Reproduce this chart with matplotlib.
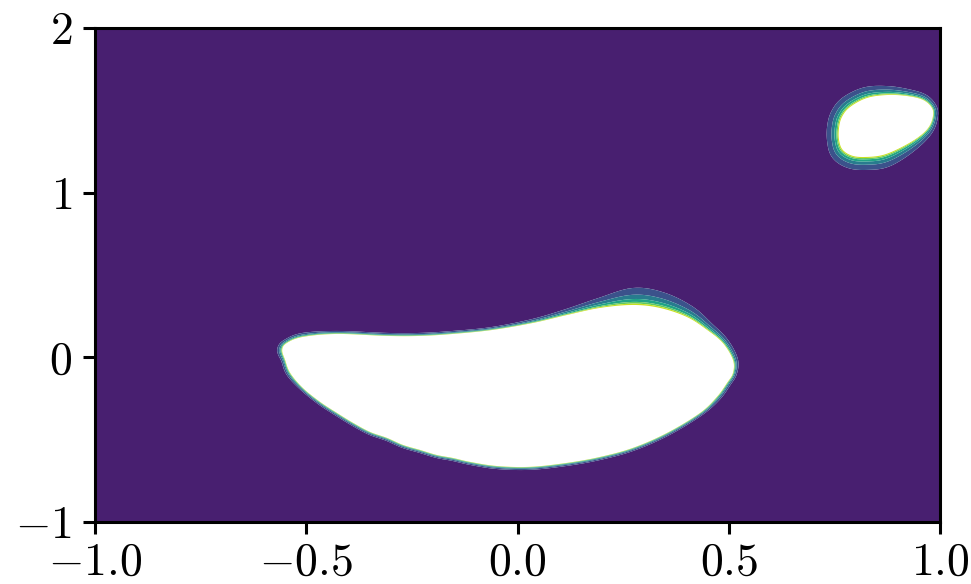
import numpy as np
import matplotlib
matplotlib.use("Agg")
import matplotlib.pyplot as plt
from matplotlib.path import Path

# ---- data: outlines of the saturated (white) regions ----
big_x = [-0.557, -0.546, -0.508, -0.427, -0.309, -0.231, -0.153, -0.060, 0.037, 0.117,
         0.195, 0.273, 0.337, 0.401, 0.449, 0.486, 0.510, 0.510, 0.496, 0.472,
         0.432, 0.354, 0.273, 0.195, 0.117, 0.030, -0.049, -0.112, -0.153, -0.191,
         -0.231, -0.271, -0.309, -0.349, -0.389, -0.427, -0.467, -0.508, -0.538, -0.550]
big_y = [0.045, 0.087, 0.124, 0.142, 0.130, 0.130, 0.142, 0.166, 0.209, 0.257,
         0.300, 0.318, 0.300, 0.245, 0.166, 0.087, -0.016, -0.095, -0.155, -0.240,
         -0.338, -0.459, -0.550, -0.605, -0.641, -0.665, -0.660, -0.635, -0.611, -0.593,
         -0.562, -0.532, -0.489, -0.453, -0.398, -0.338, -0.271, -0.186, -0.095, -0.016]
# width of the coloured fringe around each outline point (pixels)
big_halo = [5, 4, 4, 3, 3, 3, 3, 3, 4, 6,
            10, 17, 16, 12, 8, 6, 5, 4, 4, 4,
            3, 3, 3, 3, 3, 3, 3, 3, 3, 3,
            3, 3, 3, 3, 3, 3, 3, 3, 4, 4]

small_x = [0.761, 0.768, 0.787, 0.827, 0.875, 0.922, 0.960, 0.981, 0.983, 0.972,
           0.946, 0.905, 0.865, 0.827, 0.794, 0.770, 0.761]
small_y = [1.393, 1.460, 1.520, 1.575, 1.593, 1.587, 1.563, 1.514, 1.460, 1.393,
           1.332, 1.271, 1.229, 1.217, 1.223, 1.259, 1.320]
small_halo = [12, 12, 12, 11, 9, 7, 6, 5, 5, 6,
              8, 11, 13, 13, 13, 13, 12]

# relative contour levels of the fringe (0 = edge of white region)
fringe_levels = [-1.0, -0.6, -0.35, -0.18, -0.08, 0.0]

x_ticks = [-1.0, -0.5, 0.0, 0.5, 1.0]
x_labels = ["$-1.0$", "$-0.5$", "$0.0$", "$0.5$", "$1.0$"]
y_ticks = [-1, 0, 1, 2]
y_labels = ["$-1$", "$0$", "$1$", "$2$"]

# ---- figure ----
plt.rcParams.update({
    "mathtext.fontset": "cm",
    "font.family": "serif",
    "font.serif": ["cmr10", "DejaVu Serif"],
})

W, H, DPI = 9.71, 5.84, 100
fig = plt.figure(figsize=(W, H), dpi=DPI)
left, right, bottom, top = 95 / 971, 940 / 971, 1 - 522 / 584, 1 - 28 / 584
ax = fig.add_axes([left, bottom, right - left, top - bottom])
ax.set_facecolor("white")

xmin, xmax, ymin, ymax = -1.0, 1.0, -1.0, 2.0
sx = (right - left) * W * DPI / (xmax - xmin)   # pixels per data unit
sy = (top - bottom) * H * DPI / (ymax - ymin)

xs = np.linspace(xmin, xmax, 421)
ys = np.linspace(ymin, ymax, 331)
X, Y = np.meshgrid(xs, ys)
Q = np.column_stack([X.ravel() * sx, Y.ravel() * sy])


def smooth_closed(v, sub=8):
    """Closed Catmull-Rom curve through the outline points."""
    v = np.asarray(v, float)
    p0, p1, p2, p3 = np.roll(v, 1, 0), v, np.roll(v, -1, 0), np.roll(v, -2, 0)
    t = np.linspace(0, 1, sub, endpoint=False)[:, None, None]
    c = 0.5 * ((2 * p1) + (-p0 + p2) * t + (2 * p0 - 5 * p1 + 4 * p2 - p3) * t ** 2
               + (-p0 + 3 * p1 - 3 * p2 + p3) * t ** 3)
    return c.transpose(1, 0, 2).reshape(-1, v.shape[1])


def fringe_field(bx, by, halo):
    V = smooth_closed(np.column_stack([bx, by, halo]))
    A = np.column_stack([V[:, 0] * sx, V[:, 1] * sy])
    hw = V[:, 2]
    B = np.roll(A, -1, axis=0)
    AB = B - A
    L2 = (AB ** 2).sum(1) + 1e-12
    d_all = np.empty(len(Q))
    w_all = np.empty(len(Q))
    for s in range(0, len(Q), 8000):
        q = Q[s:s + 8000]
        QA = q[:, None, :] - A[None]
        t = np.clip((QA * AB[None]).sum(2) / L2[None], 0, 1)
        D = np.hypot(QA[..., 0] - t * AB[None, :, 0], QA[..., 1] - t * AB[None, :, 1])
        idx = D.argmin(1)
        r = np.arange(len(q))
        tt = t[r, idx]
        d_all[s:s + 8000] = D[r, idx]
        w_all[s:s + 8000] = hw[idx] * (1 - tt) + hw[(idx + 1) % len(hw)] * tt
    inside = Path(V[:, :2]).contains_points(np.column_stack([X.ravel(), Y.ravel()]))
    sd = np.where(inside, d_all, -d_all)
    return (sd / np.maximum(w_all, 1.0)).reshape(X.shape)


Z = np.maximum(fringe_field(big_x, big_y, big_halo),
               fringe_field(small_x, small_y, small_halo))

levels = [Z.min() - 1.0] + fringe_levels
n = len(levels) - 1
cmap = plt.get_cmap("viridis")
colors = [cmap((i + 0.5) / n) for i in range(n)]
ax.contourf(X, Y, Z, levels=levels, colors=colors, antialiased=True)

ax.set_xlim(xmin, xmax)
ax.set_ylim(ymin, ymax)
ax.set_xticks(x_ticks)
ax.set_xticklabels(x_labels)
ax.set_yticks(y_ticks)
ax.set_yticklabels(y_labels)

for s in ax.spines.values():
    s.set_linewidth(2.2)
ax.tick_params(axis="both", direction="out", length=8.5, width=2.2,
               labelsize=33, color="black")
ax.tick_params(axis="x", pad=6)
ax.tick_params(axis="y", pad=8)

fig.savefig("out.png", dpi=DPI)
